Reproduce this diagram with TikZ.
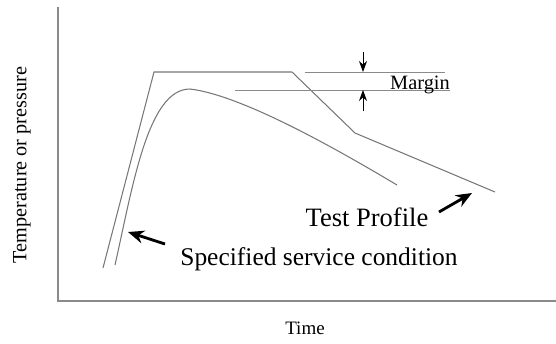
\documentclass[tikz,border=0pt]{standalone}
\usepackage{fontspec}
\setmainfont{Liberation Serif}
\usetikzlibrary{arrows.meta, positioning, calc}
\definecolor{axisgray}{HTML}{8A8A8A}
\definecolor{curvegray}{HTML}{777777}

\begin{document}
\begin{tikzpicture}[
    x=0.02cm, y=-0.02cm,
    axis/.style={draw=axisgray, line width=0.7pt},
    profile/.style={draw=curvegray, line width=0.6pt},
    marginline/.style={draw=axisgray, line width=0.5pt},
    marginarrow/.style={-{Stealth[length=2.2mm, width=1.6mm]}, line width=0.5pt, color=black},
    pointer/.style={-{Stealth[length=3.2mm, width=2.6mm]}, line width=1.6pt, color=black},
    label/.style={font=\fontsize{#1}{#1}\selectfont, inner sep=0pt},
  ]
  \useasboundingbox (0,0) rectangle (556,343);

  % axes
  \draw[axis] (58,7) -- (58,301) -- (556,301);
  \node[label=11.5, rotate=90] (ylab) at (22,165) {Temperature or pressure};
  \node[label=10.8] (xlab) at (305,328) {Time};

  % test profile
  \draw[profile] (103,268) -- (154,72) -- (292,72) -- (355,133) -- (495,192);

  % specified service condition
  \draw[profile] (115,265) .. controls (133,185) and (148,89) .. (190,89)
    .. controls (240,95) and (330,145) .. (397,185);

  % margin
  \draw[marginline] (305,72) -- (445,72);
  \draw[marginline] (235,90) -- (450,90);
  \node[label=11.6, anchor=base] (margin) at (420,89) {Margin};
  \coordinate (mtop) at (363,52);
  \coordinate (mbot) at (363,111);
  \draw[marginarrow] (mtop) -- (363,72);
  \draw[marginarrow] (mbot) -- (363,90);

  % labels with pointers
  \node[label=15.1] (test) at (367,217) {Test Profile};
  \node[label=14.5] (spec) at (319,259) {Specified service condition};
  \coordinate (testtip) at (472,193);
  \coordinate (spectip) at (128,232);
  \draw[pointer] (439,212) -- (testtip);
  \draw[pointer] (165,244) -- (spectip);
\end{tikzpicture}
\end{document}
